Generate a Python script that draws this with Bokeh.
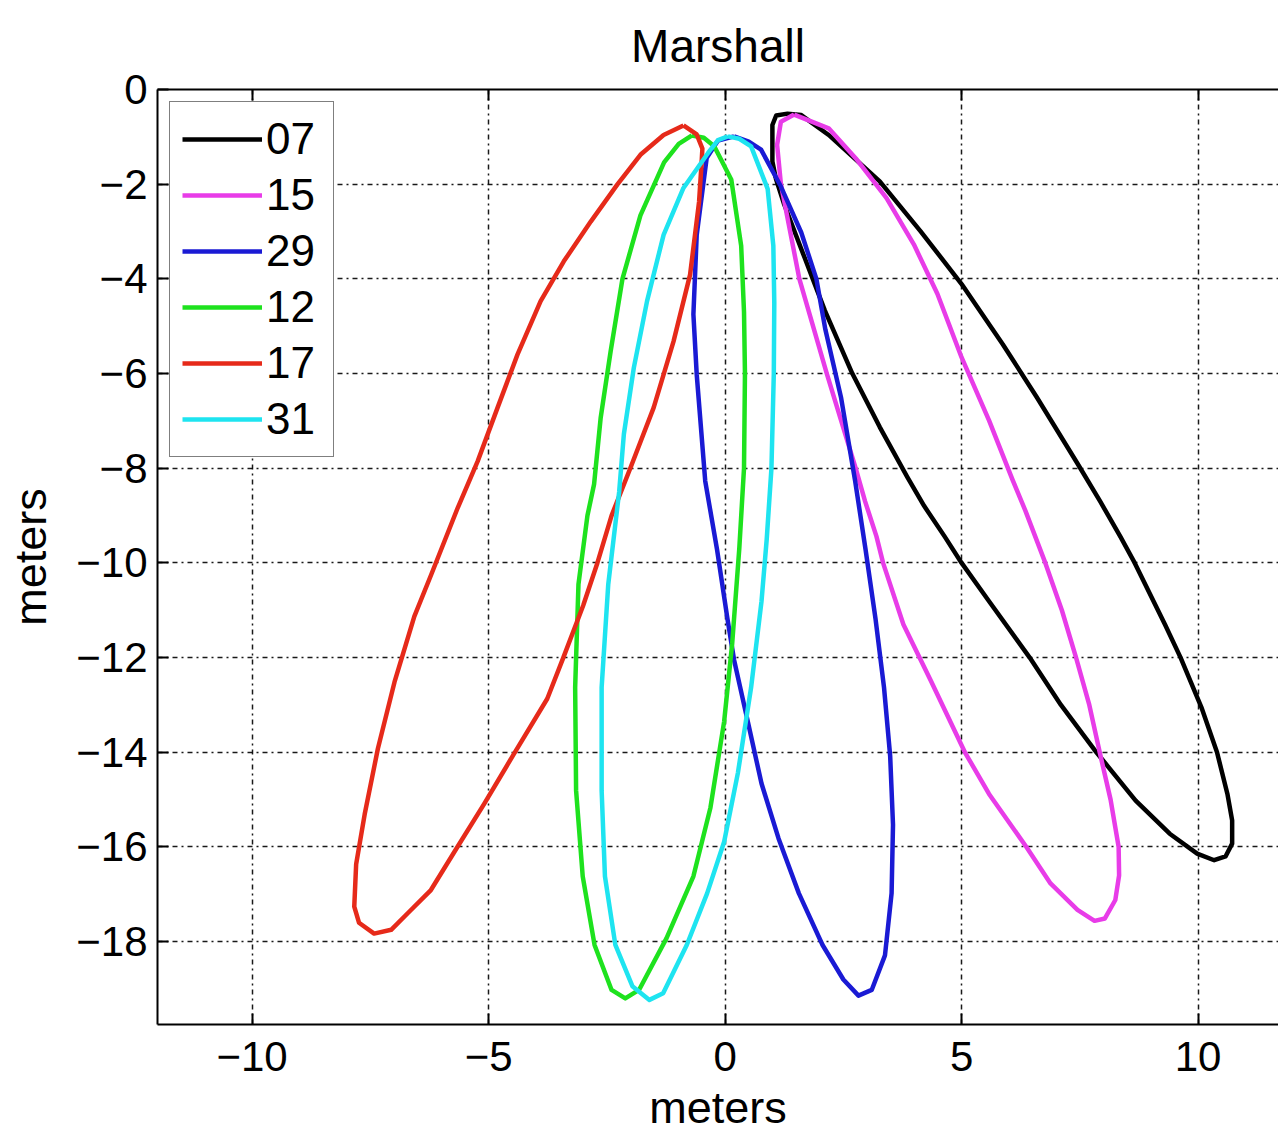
from bokeh.plotting import figure
from bokeh.models import FixedTicker, LinearAxis, Range1d, Legend, LegendItem
from bokeh.embed import file_html
from bokeh.resources import INLINE

# ---------------- data (metres) ----------------
series_names = ["07", "15", "29", "12", "17", "31"]
series_colors = ["#000000", "#e83ce8", "#1a1ad4", "#1ee21e", "#e62a1a", "#1ee4f0"]

x07 = [1.07, 1.00, 1.00, 1.08, 1.32, 1.61, 2.19, 3.27, 4.13, 5.00, 5.87, 6.59, 7.45, 7.93, 8.36,
       8.66, 9.30, 9.63, 10.07, 10.40, 10.62, 10.72, 10.72, 10.58, 10.34, 9.98, 9.40, 8.68, 7.85,
       7.10, 6.44, 5.58, 5.00, 4.64, 4.21, 3.85, 3.27, 2.69, 2.11, 1.68, 1.25, 1.07]
y07 = [-1.87, -1.52, -0.75, -0.55, -0.51, -0.54, -0.96, -1.94, -2.99, -4.11, -5.38, -6.50, -7.90, -8.70, -9.45,
       -10.00, -11.30, -12.00, -13.05, -14.00, -14.88, -15.44, -15.93, -16.20, -16.28, -16.14, -15.72, -15.02, -14.00,
       -13.00, -12.00, -10.81, -10.00, -9.44, -8.80, -8.18, -7.13, -6.00, -4.67, -3.55, -2.43, -1.87]

x15 = [1.46, 2.19, 2.76, 3.41, 3.99, 4.49, 5.00, 5.58, 6.08, 6.35, 6.77, 7.12, 7.42, 7.70, 7.92,
       8.15, 8.32, 8.33, 8.25, 8.03, 7.81, 7.45, 6.88, 6.37, 5.58, 5.07, 4.35, 3.77, 3.34, 3.20,
       2.96, 2.76, 2.15, 1.57, 1.18, 1.10, 1.18, 1.46]
y15 = [-0.53, -0.82, -1.45, -2.29, -3.27, -4.32, -5.66, -6.99, -8.25, -8.90, -10.00, -11.00, -12.00, -13.00, -14.00,
       -15.00, -16.00, -16.60, -17.12, -17.51, -17.56, -17.33, -16.77, -16.00, -14.88, -14.00, -12.49, -11.30, -10.00, -9.44,
       -8.70, -8.00, -6.00, -4.00, -2.00, -1.17, -0.68, -0.53]

x29 = [0.19, 0.50, 0.76, 1.18, 1.61, 1.93, 2.12, 2.45, 2.75, 2.97, 3.18, 3.36, 3.49, 3.55, 3.52,
       3.38, 3.10, 2.82, 2.50, 2.06, 1.56, 1.13, 0.77, 0.48, 0.19, 0.05, -0.17, -0.42, -0.60, -0.67,
       -0.60, -0.39, -0.15, 0.19]
y29 = [-0.99, -1.10, -1.27, -2.05, -3.02, -4.00, -5.07, -6.50, -8.27, -9.72, -11.18, -12.63, -14.08, -15.53, -16.98,
       -18.29, -19.02, -19.14, -18.80, -18.07, -16.98, -15.82, -14.66, -13.35, -12.05, -11.18, -9.72, -8.27, -6.02, -4.75,
       -3.07, -1.45, -1.08, -0.99]

x12 = [-0.70, -0.45, -0.23, 0.13, 0.34, 0.40, 0.42, 0.40, 0.30, 0.15, -0.02, -0.31, -0.67, -1.24, -1.82, -2.11,
       -2.40, -2.76, -3.01, -3.15, -3.17, -3.10, -2.91, -2.77, -2.63, -2.42, -2.17, -1.79, -1.29, -0.98, -0.70]
y12 = [-0.97, -1.02, -1.20, -1.90, -3.30, -4.70, -6.00, -8.00, -9.70, -11.70, -13.35, -15.17, -16.62, -17.93, -19.02, -19.20,
       -19.02, -18.07, -16.62, -14.81, -12.63, -10.45, -9.00, -8.34, -6.93, -5.53, -4.00, -2.66, -1.54, -1.15, -0.97]

x17 = [-0.88, -0.60, -0.48, -0.50, -0.55, -0.74, -1.09, -1.51, -2.00, -2.40, -2.70, -3.00, -3.42, -3.76, -4.48,
       -5.10, -5.66, -6.22, -6.71, -7.06, -7.42, -7.74, -7.84, -7.80, -7.62, -7.34, -6.99, -6.57, -6.21, -5.65,
       -5.23, -4.81, -4.39, -3.90, -3.41, -2.84, -2.28, -1.79, -1.30, -0.88]
y17 = [-0.76, -0.95, -1.25, -1.60, -2.37, -3.91, -5.32, -6.72, -7.99, -9.00, -10.00, -10.90, -12.00, -12.87, -14.06,
       -15.10, -16.00, -16.91, -17.40, -17.75, -17.83, -17.60, -17.26, -16.36, -15.31, -13.92, -12.52, -11.13, -10.24, -8.83,
       -7.85, -6.72, -5.60, -4.47, -3.63, -2.79, -2.01, -1.38, -0.96, -0.76]

x31 = [0.06, 0.30, 0.55, 0.90, 1.02, 1.04, 1.03, 0.98, 0.88, 0.77, 0.55, 0.27, -0.02, -0.38, -0.81, -1.31,
       -1.60, -1.96, -2.32, -2.54, -2.61, -2.61, -2.47, -2.24, -2.14, -1.93, -1.65, -1.30, -0.88, -0.36, -0.15, 0.06]
y31 = [-0.99, -1.04, -1.20, -2.10, -3.30, -4.50, -6.00, -8.00, -9.50, -10.81, -12.63, -14.44, -15.89, -16.98, -18.07, -19.09,
       -19.23, -18.94, -18.07, -16.62, -14.81, -12.63, -10.45, -8.50, -7.28, -5.88, -4.47, -3.07, -2.08, -1.34, -1.07, -0.99]

series_x = [x07, x15, x29, x12, x17, x31]
series_y = [y07, y15, y29, y12, y17, y31]

x_ticks = [-10, -5, 0, 5, 10]
x_tick_labels = ["\u221210", "\u22125", "0", "5", "10"]
y_ticks = [0, -2, -4, -6, -8, -10, -12, -14, -16, -18]
y_tick_labels = ["0", "\u22122", "\u22124", "\u22126", "\u22128", "\u221210", "\u221212", "\u221214", "\u221216", "\u221218"]
title_text = "Marshall"

FONT = "Liberation Sans"

p = figure(width=1278, height=1135,
           x_range=Range1d(-12, 11.70), y_range=Range1d(-19.75, 0),
           output_backend="svg", toolbar_location=None,
           min_border_left=157, min_border_right=0, min_border_top=88, min_border_bottom=110,
           title=title_text)
p.background_fill_color = "white"
p.border_fill_color = "white"
p.outline_line_color = None

p.title.align = "center"
p.title.text_font = FONT
p.title.text_font_size = "46px"
p.title.text_font_style = "normal"
p.title.text_color = "black"
p.title.standoff = 35

# axes
for ax, ticks, labs in ((p.xaxis[0], x_ticks, x_tick_labels), (p.yaxis[0], y_ticks, y_tick_labels)):
    ax.ticker = FixedTicker(ticks=ticks)
    ax.major_label_overrides = {t: l for t, l in zip(ticks, labs)}
    ax.major_label_text_font = FONT
    ax.major_label_text_font_size = "42px"
    ax.major_label_text_color = "black"
    ax.major_label_standoff = 10
    ax.axis_line_width = 2
    ax.axis_line_color = "black"
    ax.major_tick_in = 11
    ax.major_tick_out = 0
    ax.major_tick_line_width = 2
    ax.minor_tick_line_color = None
    ax.axis_label = "meters"
    ax.axis_label_text_font = FONT
    ax.axis_label_text_font_size = "45px"
    ax.axis_label_text_font_style = "normal"
    ax.axis_label_text_color = "black"
p.xaxis[0].major_label_standoff = 17
p.xaxis[0].axis_label_standoff = 8
p.yaxis[0].axis_label_standoff = 17

# top spine with inward tick marks (no labels)
top_axis = LinearAxis(ticker=FixedTicker(ticks=[], minor_ticks=x_ticks),
                      axis_line_width=2, axis_line_color="black",
                      major_tick_line_color=None,
                      minor_tick_in=11, minor_tick_out=0, minor_tick_line_width=2,
                      minor_tick_line_color="black")
p.add_layout(top_axis, "above")

# grid
p.xgrid.ticker = FixedTicker(ticks=x_ticks)
p.ygrid.ticker = FixedTicker(ticks=y_ticks)
for g in (p.xgrid[0], p.ygrid[0]):
    g.grid_line_color = "black"
    g.grid_line_dash = "5 4 2 4"
    g.grid_line_width = 1.5
    g.grid_line_alpha = 0.9

# curves
items = []
for name, col, xs, ys in zip(series_names, series_colors, series_x, series_y):
    r = p.line(xs, ys, line_color=col, line_width=4.5, line_join="round")
    items.append(LegendItem(label=name, renderers=[r]))

legend = Legend(items=items, location="top_left")
legend.margin = 12
legend.padding = 12
legend.spacing = 6
legend.glyph_width = 80
legend.glyph_height = 50
legend.label_height = 50
legend.label_width = 55
legend.label_standoff = 4
legend.label_text_font = FONT
legend.label_text_font_size = "44px"
legend.label_text_color = "black"
legend.border_line_color = "black"
legend.border_line_width = 1.5
legend.background_fill_color = "white"
legend.background_fill_alpha = 1.0
p.add_layout(legend)

open("out.html", "w").write(file_html(p, INLINE))
